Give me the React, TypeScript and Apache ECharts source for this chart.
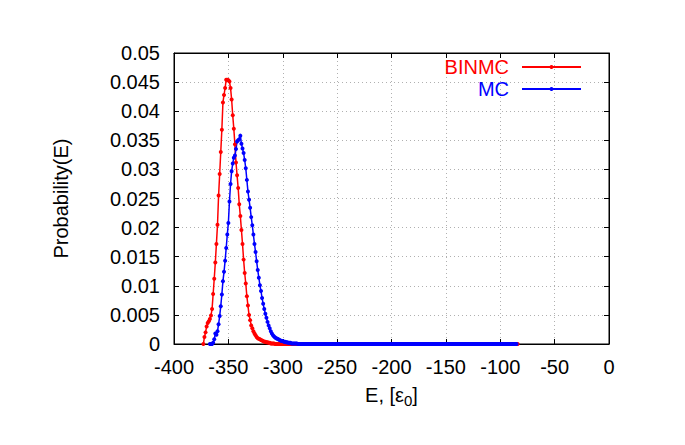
import React, { useEffect, useRef } from "react";
import * as echarts from "echarts";

// Energy grid: one point per unit of E, starting at the given value
const binmcStartE = -373;
const mcStartE = -367;

// BINMC probabilities (E = -373, -372, ...)
const binmcValues: number[] = [
  0, 0.0012, 0.0020, 0.0030, 0.0036, 0.0039, 0.0043, 0.0049, 0.0060, 0.0086,
  0.0112, 0.0140, 0.0172, 0.0205, 0.0255, 0.0292, 0.0330, 0.0368, 0.0415, 0.0428,
  0.0440, 0.0454, 0.0454, 0.0453, 0.0451, 0.0440, 0.0420, 0.0393, 0.0370, 0.0343,
  0.0312, 0.0290, 0.0268, 0.0240, 0.0220, 0.0196, 0.0172, 0.0145, 0.0122, 0.0104,
  0.0082, 0.0066, 0.0050, 0.0041, 0.0032, 0.0027, 0.0022, 0.0018, 0.0015, 0.0012,
  0.0010, 0.0009, 0.0008, 0.0007, 0.0006, 0.0005, 0.0004, 0.0004, 0.0003, 0.0003,
  0.0002, 0.0002, 0.0001, 0.0001, 0.0001, 0.0001,
  0, 0, 0, 0, 0, 0, 0, 0, 0, 0, 0, 0, 0, 0, 0, 0, 0, 0, 0, 0,
  0, 0, 0, 0, 0, 0, 0, 0, 0, 0, 0, 0, 0, 0, 0, 0, 0, 0, 0, 0,
  0, 0, 0, 0, 0, 0, 0, 0, 0, 0, 0, 0, 0, 0, 0, 0, 0, 0, 0, 0,
  0, 0, 0, 0, 0, 0, 0, 0, 0, 0, 0, 0, 0, 0, 0, 0, 0, 0, 0, 0,
  0, 0, 0, 0, 0, 0, 0, 0, 0, 0, 0, 0, 0, 0, 0, 0, 0, 0, 0, 0,
  0, 0, 0, 0, 0, 0, 0, 0, 0, 0, 0, 0, 0, 0, 0, 0, 0, 0, 0, 0,
  0, 0, 0, 0, 0, 0, 0, 0, 0, 0, 0, 0, 0, 0, 0, 0, 0, 0, 0, 0,
  0, 0, 0, 0, 0, 0, 0, 0, 0, 0, 0, 0, 0, 0, 0, 0, 0, 0, 0, 0,
  0, 0, 0, 0, 0, 0, 0, 0, 0, 0, 0, 0, 0, 0, 0, 0, 0, 0, 0, 0,
  0, 0, 0, 0, 0, 0, 0, 0, 0, 0, 0, 0, 0, 0, 0, 0, 0, 0, 0, 0,
  0, 0, 0, 0, 0, 0, 0, 0, 0, 0, 0, 0, 0, 0, 0, 0, 0, 0, 0, 0,
  0, 0, 0, 0,
];

// MC probabilities (E = -367, -366, ...)
const mcValues: number[] = [
  0, 0, 0, 0.0002, 0.0008, 0.0018, 0.0016, 0.0022, 0.0034, 0.0048,
  0.0065, 0.0085, 0.0108, 0.0124, 0.0143, 0.0165, 0.0188, 0.0208, 0.0245, 0.0275,
  0.0297, 0.0310, 0.0320, 0.0324, 0.0335, 0.0348, 0.0350, 0.0352, 0.0358, 0.0344,
  0.0336, 0.0328, 0.0316, 0.0302, 0.0282, 0.0262, 0.0248, 0.0234, 0.0218, 0.0204,
  0.0188, 0.0172, 0.0158, 0.0142, 0.0127, 0.0114, 0.0101, 0.0091, 0.0079, 0.0069,
  0.0060, 0.0052, 0.0045, 0.0038, 0.0032, 0.0027, 0.0022, 0.0018, 0.0015, 0.0013,
  0.0011, 0.0010, 0.0009, 0.0008, 0.0007, 0.0006, 0.0005, 0.0005, 0.0004, 0.0004,
  0.0003, 0.0003, 0.0002, 0.0002, 0.0002, 0.0001, 0.0001, 0.0001, 0.0001, 0.0001,
  0.0001,
  0, 0, 0, 0, 0, 0, 0, 0, 0, 0, 0, 0, 0, 0, 0, 0, 0, 0, 0, 0,
  0, 0, 0, 0, 0, 0, 0, 0, 0, 0, 0, 0, 0, 0, 0, 0, 0, 0, 0, 0,
  0, 0, 0, 0, 0, 0, 0, 0, 0, 0, 0, 0, 0, 0, 0, 0, 0, 0, 0, 0,
  0, 0, 0, 0, 0, 0, 0, 0, 0, 0, 0, 0, 0, 0, 0, 0, 0, 0, 0, 0,
  0, 0, 0, 0, 0, 0, 0, 0, 0, 0, 0, 0, 0, 0, 0, 0, 0, 0, 0, 0,
  0, 0, 0, 0, 0, 0, 0, 0, 0, 0, 0, 0, 0, 0, 0, 0, 0, 0, 0, 0,
  0, 0, 0, 0, 0, 0, 0, 0, 0, 0, 0, 0, 0, 0, 0, 0, 0, 0, 0, 0,
  0, 0, 0, 0, 0, 0, 0, 0, 0, 0, 0, 0, 0, 0, 0, 0, 0, 0, 0, 0,
  0, 0, 0, 0, 0, 0, 0, 0, 0, 0, 0, 0, 0, 0, 0, 0, 0, 0, 0, 0,
  0, 0, 0, 0, 0, 0, 0, 0, 0, 0, 0, 0, 0, 0, 0, 0, 0, 0, 0, 0,
  0, 0,
];

const seriesNames = ["BINMC", "MC"];
const seriesColors = ["#ff0000", "#0000ff"];

const FONT = "'Liberation Sans', Arial, Helvetica, sans-serif";
const FS = 20;

function toPairs(start: number, vals: number[]): [number, number][] {
  return vals.map((v, i) => [start + i, v]);
}

export default function App() {
  const ref = useRef<HTMLDivElement>(null);

  useEffect(() => {
    if (!ref.current) return;
    const chart = echarts.init(ref.current, undefined, { renderer: "svg" });

    const gridLine = { show: true, lineStyle: { color: "#b0b0b0", width: 1, type: [1, 3] as any } };
    const tick = { show: true, inside: true, length: 5, lineStyle: { color: "#000", width: 1 } };
    const axisLine = { show: true, onZero: false, lineStyle: { color: "#000", width: 1 } };

    chart.setOption({
      animation: false,
      backgroundColor: "#fff",
      textStyle: { fontFamily: FONT },
      grid: { left: 174, right: 76, top: 53, bottom: 101, show: true, borderColor: "#000", borderWidth: 1, backgroundColor: "transparent" },
      legend: {
        orient: "vertical",
        right: 98,
        top: 52,
        align: "right",
        itemWidth: 59,
        itemHeight: 5,
        itemGap: 2,
        textStyle: { fontSize: FS, fontFamily: FONT, padding: [0, 8, 0, 0] },
        data: [
          { name: seriesNames[0], textStyle: { color: seriesColors[0] } },
          { name: seriesNames[1], textStyle: { color: seriesColors[1] } },
        ],
      },
      xAxis: [
        {
          type: "value",
          position: "bottom",
          min: -400,
          max: 0,
          interval: 50,
          axisLine,
          axisTick: tick,
          splitLine: gridLine,
          axisLabel: { fontSize: FS, color: "#000", margin: 13, fontFamily: FONT },
          name: "{a|E, [ε}{s|0}{a|]}",
          nameLocation: "middle",
          nameGap: 41,
          nameTextStyle: {
            rich: {
              a: { fontSize: FS, color: "#000", fontFamily: FONT, lineHeight: 23, verticalAlign: "top" },
              s: { fontSize: 15, color: "#000", fontFamily: FONT, lineHeight: 11, verticalAlign: "bottom" },
            },
          },
        },
        {
          type: "value",
          position: "top",
          min: -400,
          max: 0,
          interval: 50,
          axisLine,
          axisTick: tick,
          splitLine: { show: false },
          axisLabel: { show: false },
        },
      ],
      yAxis: [
        {
          type: "value",
          position: "left",
          min: 0,
          max: 0.05,
          interval: 0.005,
          axisLine,
          axisTick: tick,
          splitLine: gridLine,
          axisLabel: {
            fontSize: FS,
            color: "#000",
            margin: 14,
            fontFamily: FONT,
            formatter: (v: number) => String(+v.toFixed(3)),
          },
          name: "Probability(E)",
          nameLocation: "middle",
          nameGap: 103,
          nameTextStyle: { fontSize: FS, color: "#000", fontFamily: FONT },
        },
        {
          type: "value",
          position: "right",
          min: 0,
          max: 0.05,
          interval: 0.005,
          axisLine,
          axisTick: tick,
          splitLine: { show: false },
          axisLabel: { show: false },
        },
      ],
      series: [
        {
          name: seriesNames[0],
          type: "line",
          data: toPairs(binmcStartE, binmcValues),
          symbol: "circle",
          symbolSize: 4,
          showAllSymbol: true,
          lineStyle: { width: 1.5, color: seriesColors[0] },
          itemStyle: { color: seriesColors[0] },
        },
        {
          name: seriesNames[1],
          type: "line",
          data: toPairs(mcStartE, mcValues),
          symbol: "circle",
          symbolSize: 4,
          showAllSymbol: true,
          lineStyle: { width: 1.5, color: seriesColors[1] },
          itemStyle: { color: seriesColors[1] },
        },
      ],
    });

    return () => chart.dispose();
  }, []);

  return (
    <div
      ref={ref}
      style={{ position: "fixed", left: 0, top: 0, width: 685, height: 445, background: "#fff" }}
    />
  );
}
